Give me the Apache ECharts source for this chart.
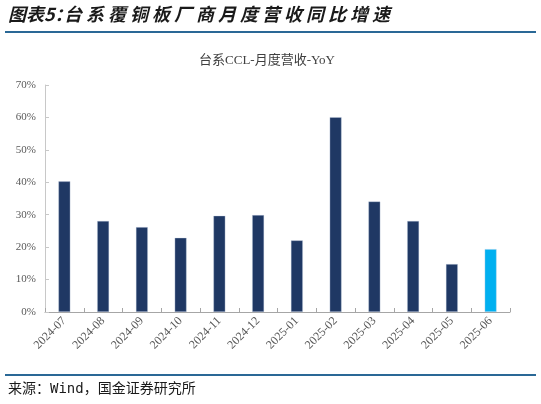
<!DOCTYPE html>
<html><head><meta charset="utf-8">
<script src="https://cdn.jsdelivr.net/npm/echarts@6/dist/echarts.min.js"></script>
<style>html,body{margin:0;padding:0;background:#fff}#c{width:541px;height:404px}</style>
</head><body><div id="c"></div>
<script>
const categories = ['2024-07','2024-08','2024-09','2024-10','2024-11','2024-12','2025-01','2025-02','2025-03','2025-04','2025-05','2025-06'];
const yoyValues = [0.403, 0.281, 0.262, 0.229, 0.297, 0.299, 0.221, 0.601, 0.341, 0.281, 0.148, 0.194];
const highlightIndex = 11;
const yTicks = { min: 0, max: 0.7, interval: 0.1 };
const headerPrefix = '图表5：';
const headerText = '台系覆铜板厂商月度营收同比增速';
const chartTitle = '台系CCL-月度营收-YoY';
const sourceText = '来源：Wind，国金证券研究所';

const navy = '#1F3864', cyan = '#00B0F0', lineBlue = '#2A6896';
const serif = '"Liberation Serif","DejaVu Serif","Noto Sans CJK SC",serif';
const cjk = '"Noto Sans CJK SC",sans-serif';
const mono = '"DejaVu Sans Mono","Noto Sans CJK SC",monospace';

const graphics = [
  { type: 'text', left: 8, top: 5, style: { text: headerPrefix, font: 'italic bold 18px ' + cjk, fill: '#1a1a1a' } },
  { type: 'line', shape: { x1: 5, y1: 32, x2: 536, y2: 32 }, style: { stroke: lineBlue, lineWidth: 2 } },
  { type: 'line', shape: { x1: 5, y1: 375, x2: 536, y2: 375 }, style: { stroke: lineBlue, lineWidth: 2 } },
  { type: 'text', left: 8, top: 382, style: { text: sourceText, font: '14px ' + mono, fill: '#1a1a1a' } }
];
headerText.split('').forEach((ch, i) => {
  graphics.push({ type: 'text', left: 64 + i * 22, top: 5, style: { text: ch, font: 'italic bold 18px ' + cjk, fill: '#1a1a1a' } });
});

const chart = echarts.init(document.getElementById('c'), null, { renderer: 'canvas' });
chart.setOption({
  animation: false,
  backgroundColor: '#fff',
  title: { text: chartTitle, left: 262, top: 49, textAlign: 'center',
    textStyle: { fontFamily: serif, fontSize: 13, fontWeight: 'normal', color: '#404040' } },
  grid: { left: 45, right: 31, top: 85, bottom: 92, containLabel: false },
  xAxis: {
    type: 'category', data: categories,
    axisLine: { lineStyle: { color: '#A6A6A6', width: 1 } },
    axisTick: { show: true, inside: true, length: 4, lineStyle: { color: '#A6A6A6' } },
    axisLabel: { rotate: 45, fontFamily: serif, fontSize: 12, color: '#595959', margin: 7, interval: 0 }
  },
  yAxis: {
    type: 'value', min: yTicks.min, max: yTicks.max, interval: yTicks.interval,
    splitLine: { show: false },
    axisLine: { show: true, lineStyle: { color: '#C8C8C8', width: 1 } },
    axisTick: { show: true, inside: true, length: 4, lineStyle: { color: '#C8C8C8' } },
    axisLabel: { fontFamily: serif, fontSize: 11, color: '#595959', margin: 9,
      formatter: v => Math.round(v * 100) + '%' }
  },
  series: [{
    type: 'bar', barWidth: 12,
    data: yoyValues.map((v, i) => ({ value: v, itemStyle: { color: i === highlightIndex ? cyan : navy } })),
    itemStyle: { borderColor: 'rgba(200,210,230,0.6)', borderWidth: 0.6 }
  }],
  graphic: graphics
});
</script></body></html>
